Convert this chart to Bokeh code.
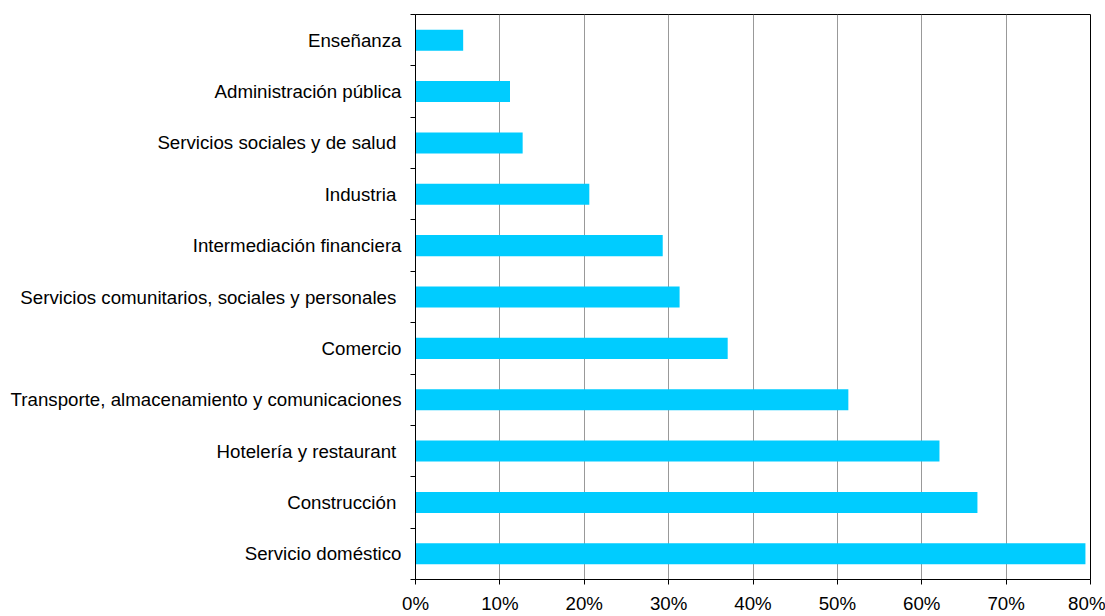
from bokeh.plotting import figure
from bokeh.models import FixedTicker, PrintfTickFormatter, Range1d, ColumnDataSource
from bokeh.embed import file_html
from bokeh.resources import INLINE

# Data (bottom to top)
categories = [
    "Servicio doméstico",
    "Construcción ",
    "Hotelería y restaurant ",
    "Transporte, almacenamiento y comunicaciones",
    "Comercio",
    "Servicios comunitarios, sociales y personales ",
    "Intermediación financiera",
    "Industria ",
    "Servicios sociales y de salud ",
    "Administración pública",
    "Enseñanza",
]
values = [79.4, 66.6, 62.1, 51.3, 37.0, 31.3, 29.3, 20.6, 12.7, 11.2, 5.65]
x_ticks = [0, 10, 20, 30, 40, 50, 60, 70, 80]

positions = list(range(len(categories)))
src = ColumnDataSource(dict(y=positions, v=values))

FONT = "Liberation Sans"

p = figure(width=1105, height=616, output_backend="svg", toolbar_location=None,
           x_range=Range1d(0, 80), y_range=Range1d(-0.5, len(categories) - 0.5),
           min_border_left=415, min_border_top=14, min_border_right=15, min_border_bottom=35)

p.hbar(y="y", right="v", left=0, height=0.41, source=src,
       fill_color="#00CCFF", line_color=None)

p.outline_line_color = "black"
p.outline_line_width = 1
p.background_fill_color = "white"
p.border_fill_color = "white"

# X axis
p.xaxis.ticker = FixedTicker(ticks=x_ticks)
p.xaxis.formatter = PrintfTickFormatter(format="%d%%")
p.xaxis.axis_line_color = "black"
p.xaxis.major_tick_line_color = "black"
p.xaxis.major_tick_out = 5
p.xaxis.major_tick_in = 0
p.xaxis.minor_tick_line_color = None
p.xaxis.major_label_standoff = 8
p.xaxis.major_label_text_font = FONT
p.xaxis.major_label_text_font_size = "18.7px"
p.xaxis.major_label_text_color = "black"

# Y axis: labels at centres, ticks at boundaries
p.yaxis.ticker = FixedTicker(ticks=positions,
                             minor_ticks=[i - 0.5 for i in range(len(categories) + 1)])
p.yaxis.major_label_overrides = {i: c for i, c in zip(positions, categories)}
p.yaxis.axis_line_color = "black"
p.yaxis.major_tick_out = 0
p.yaxis.major_tick_in = 0
p.yaxis.minor_tick_out = 5
p.yaxis.minor_tick_in = 0
p.yaxis.minor_tick_line_color = "black"
p.yaxis.major_label_standoff = 9
p.yaxis.major_label_text_font = FONT
p.yaxis.major_label_text_font_size = "18.7px"
p.yaxis.major_label_text_color = "black"

p.xgrid.ticker = FixedTicker(ticks=x_ticks)
p.xgrid.grid_line_color = "#999999"
p.xgrid.grid_line_width = 1
p.ygrid.grid_line_color = None

open("out.html", "w").write(file_html(p, INLINE))
